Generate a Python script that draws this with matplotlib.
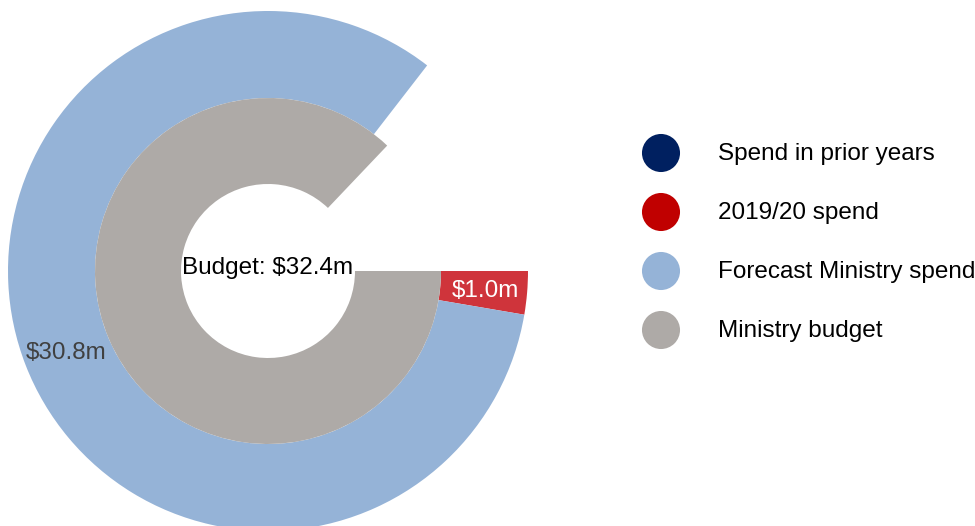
import matplotlib
matplotlib.use("Agg")
import matplotlib.pyplot as plt

plt.rcParams['font.family'] = ['Liberation Sans', 'DejaVu Sans']

# Data
scale_total = 37.2  # full circle value
outer_labels = ["Spend in prior years", "2019/20 spend", "Forecast Ministry spend"]
outer_values = [0.0, 1.0, 30.8]
inner_labels = ["Ministry budget"]
inner_values = [32.4]
legend_labels = ["Spend in prior years", "2019/20 spend", "Forecast Ministry spend", "Ministry budget"]

c_navy = "#002060"
c_red = "#c00000"
c_red_slice = "#cf343b"
c_blue = "#95b3d7"
c_gray = "#aeaaa7"

W, H = 975, 526
fig = plt.figure(figsize=(W / 100, H / 100), dpi=100)
ax = fig.add_axes([0, 0, 1, 1])

cx, cy = 268, 255
R_out, R_mid, R_in = 260, 173, 87

ov = outer_values + [scale_total - sum(outer_values)]
ax.pie(ov, colors=[c_navy, c_red_slice, c_blue, (1, 1, 1, 0)], startangle=0, counterclock=False,
       center=(cx, cy), radius=R_out, wedgeprops=dict(width=R_out - R_mid, linewidth=0),
       normalize=True)
iv = inner_values + [scale_total - sum(inner_values)]
ax.pie(iv, colors=[c_gray, (1, 1, 1, 0)], startangle=0, counterclock=False,
       center=(cx, cy), radius=R_mid, wedgeprops=dict(width=R_mid - R_in, linewidth=0),
       normalize=True)

ax.set_xlim(0, W)
ax.set_ylim(0, H)
ax.set_aspect('equal')
ax.axis('off')

fs = 17.5
ax.text(485, H - 291, "$%.1fm" % outer_values[1], color="white", fontsize=fs, ha="center", va="center")
ax.text(66, H - 353, "$%.1fm" % outer_values[2], color="#404040", fontsize=fs, ha="center", va="center")
ax.text(268, H - 268, "Budget: $%.1fm" % inner_values[0], color="black", fontsize=fs, ha="center", va="center")

legend_colors = [c_navy, c_red, c_blue, c_gray]
ys = [153, 212, 271, 330]
for lab, col, y in zip(legend_labels, legend_colors, ys):
    ax.scatter([661], [H - y], s=38 ** 2 * 0.52, color=col, edgecolors='none')
    ax.text(718, H - y - 1, lab, fontsize=fs, ha="left", va="center", color="black")

fig.savefig("out.png", dpi=100)
